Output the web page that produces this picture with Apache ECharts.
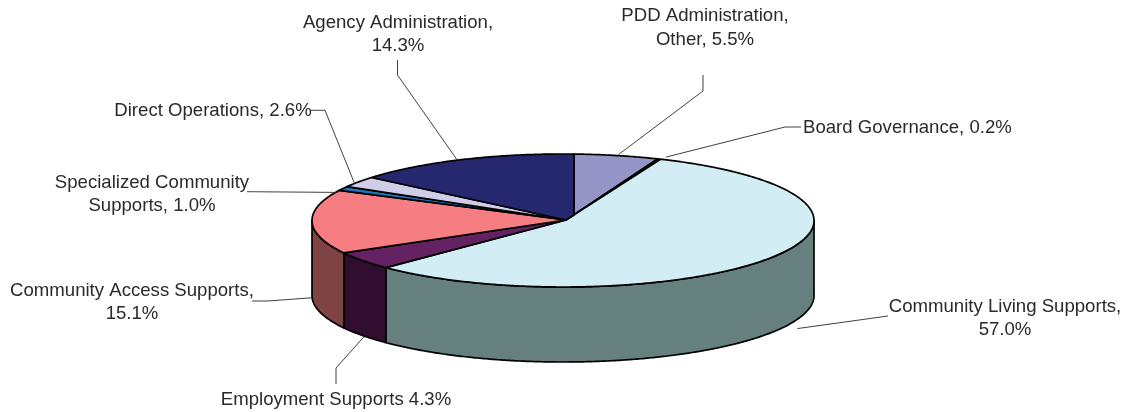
<!DOCTYPE html>
<html>
<head>
<meta charset="utf-8">
<style>
  html, body { margin: 0; background: #fff; }
  #main { width: 1131px; height: 412px; }
</style>
<script src="https://cdn.jsdelivr.net/npm/echarts@6/dist/echarts.min.js"></script>
</head>
<body>
<div id="main"></div>
<script>
// data, clockwise from the top of the pie
const names = ['PDD Administration', 'Board Governance', 'Community Living Supports', 'Employment Supports',
  'Community Access Supports', 'Specialized Community Supports', 'Direct Operations', 'Agency Administration']
const shares = [5.5, 0.2, 57.0, 4.3, 15.1, 1.0, 2.6, 14.3]
const labelLines = [
  ['PDD Administration,', 'Other, 5.5%'],
  ['Board Governance, 0.2%'],
  ['Community Living Supports,', '57.0%'],
  ['Employment Supports 4.3%'],
  ['Community Access Supports,', '15.1%'],
  ['Specialized Community', 'Supports, 1.0%'],
  ['Direct Operations, 2.6%'],
  ['Agency Administration,', '14.3%']
]

// styles
const topColors = ['#9595c8', '#8f3a63', '#d2edf4', '#652263', '#f67d81', '#1f73b8', '#cfcde8', '#25276f']
const wallColors = ['#5f5f80', '#5c2540', '#66807f', '#310d30', '#7f4344', '#144a76', '#858495', '#181947']

// pie shape
const pie = { cx: 563, cy: 220.5, a: 251, b: 66.5, depth: 75, apexX: 566, apexY: 220, backX: 574, backY: 215, start: 2.5 }

// where each label sits, and the leader line bends between label and slice
const labelBoxes = [
  { x: 705, y: 28, lineHeight: 24, align: 'center', bends: [[703, 91], [703, 75]], tail: [2, -1] },
  { x: 803, y: 128, align: 'left', bends: [[785, 127], [801, 127]], tail: [7, -2] },
  { x: 1005, y: 318.5, align: 'center', bends: [[888, 316]], tail: [26, -4] },
  { x: 336, y: 400, align: 'center', bends: [[336, 368], [336, 384]], tail: [2, 0] },
  { x: 132, y: 302, align: 'center', bends: [[268, 301], [252, 301]], tail: [0, 1] },
  { x: 152, y: 194, align: 'center', bends: [[247, 191.7]], tail: [-5, 4] },
  { x: 213, y: 111, align: 'center', bends: [[325, 110.3], [311, 110.3]], tail: [-4, 2] },
  { x: 398, y: 34.5, align: 'center', bends: [[397.5, 75], [397.5, 60]], tail: [-5, 1] }
]

const toRad = (d) => d * Math.PI / 180

// the front of the pie is stretched a little, as in the perspective of the original
function warp(deg) {
  return deg - 4 * (1 - Math.cos(toRad(deg))) / 2
}

function rimPoint(deg, drop) {
  const t = toRad(deg)
  return [pie.cx + pie.a * Math.sin(t), pie.cy - pie.b * Math.cos(t) + (drop || 0)]
}

function arcPoints(from, to, drop) {
  const steps = Math.max(2, Math.ceil(Math.abs(to - from) * 2))
  const pts = []
  for (let i = 0; i <= steps; i++) pts.push(rimPoint(from + (to - from) * i / steps, drop))
  return pts
}

// start and end angle of slice i, from the shares
function sliceAngles(i) {
  let sum = 0
  for (let k = 0; k < i; k++) sum += shares[k]
  const total = shares.reduce((a, b) => a + b, 0)
  const s = pie.start + sum / total * 360
  const e = s + shares[i] / total * 360
  return [warp(s), warp(e)]
}

const outline = { stroke: '#000', lineWidth: 1.7, lineJoin: 'round' }

function renderWall(params) {
  const i = params.dataIndex
  const [s, e] = sliceAngles(i)
  const from = Math.max(s, 90)
  const to = Math.min(e, 270)
  if (to <= from) return null
  const points = arcPoints(from, to, 0).concat(arcPoints(to, from, pie.depth))
  return { type: 'polygon', shape: { points }, style: { fill: wallColors[i], ...outline } }
}

function renderTop(params) {
  const i = params.dataIndex
  const [s, e] = sliceAngles(i)
  const apex = [pie.apexX, pie.apexY]
  const back = [pie.backX, pie.backY]
  // the first and last slices share the upright edge at the back
  let points = [i === 0 ? back : apex].concat(arcPoints(s, e, 0))
  if (i === shares.length - 1) points.push(back)
  return { type: 'polygon', shape: { points }, style: { fill: topColors[i], ...outline } }
}

function renderLabel(params) {
  const i = params.dataIndex
  const [s, e] = sliceAngles(i)
  const mid = (s + e) / 2
  const box = labelBoxes[i]
  const front = mid > 90 && mid < 270
  const anchor = rimPoint(mid, front ? pie.depth : 0)
  const tail = box.tail || [0, 0]
  const points = [[anchor[0] + tail[0], anchor[1] + tail[1]]].concat(box.bends)
  return {
    type: 'group',
    children: [
      { type: 'polyline', shape: { points }, style: { fill: 'none', stroke: '#2a2a2a', lineWidth: 0.9 } },
      {
        type: 'text',
        x: box.x,
        y: box.y,
        style: {
          text: labelLines[i].join('\n'),
          font: '18.6px "Liberation Sans", Arial, sans-serif',
          lineHeight: box.lineHeight || 23,
          fill: '#2b2a29',
          align: box.align,
          verticalAlign: 'middle'
        }
      }
    ]
  }
}

const chart = echarts.init(document.getElementById('main'), null, { renderer: 'canvas' })
const rows = shares.map((v, i) => ({ name: names[i], value: v }))
const layer = (renderItem) => ({
  type: 'custom',
  coordinateSystem: 'none',
  renderItem,
  data: rows,
  silent: true
})

chart.setOption({
  animation: false,
  backgroundColor: '#fff',
  series: [layer(renderWall), layer(renderTop), layer(renderLabel)]
})
</script>
</body>
</html>
